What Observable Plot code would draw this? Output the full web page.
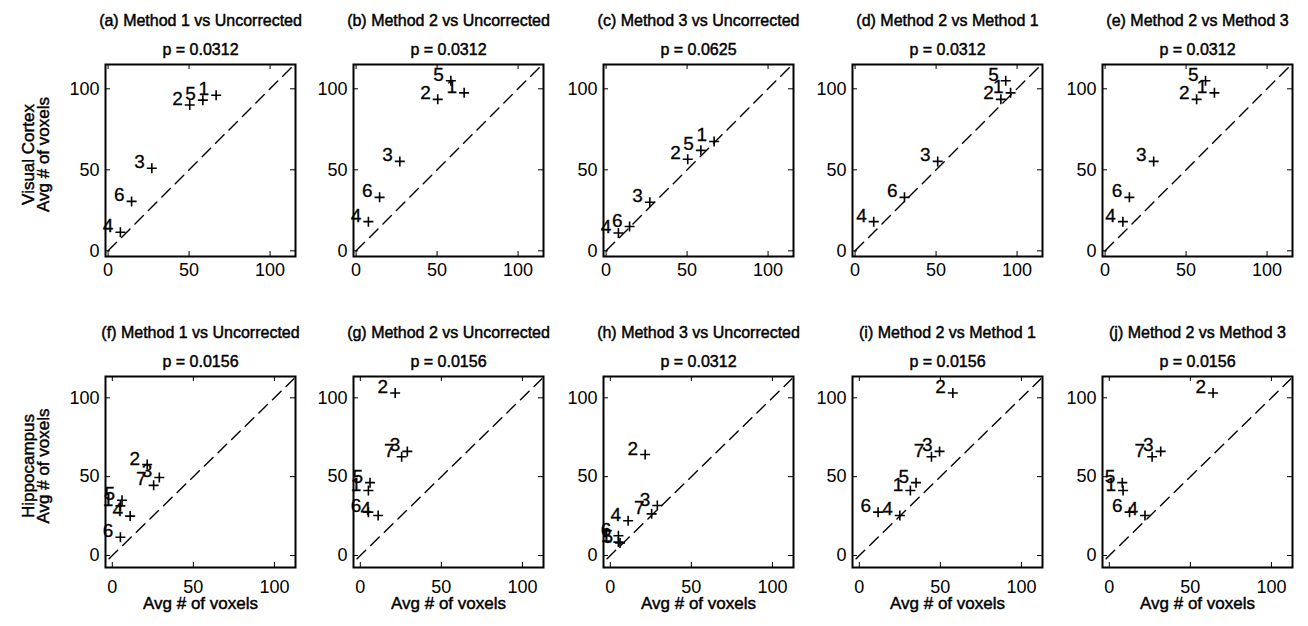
<!DOCTYPE html>
<html><head><meta charset="utf-8">
<script src="https://cdn.jsdelivr.net/npm/d3@7"></script>
<script src="https://cdn.jsdelivr.net/npm/@observablehq/plot@0.6"></script>
<style>
html,body{margin:0;padding:0;background:#fff;}
#chart{position:relative;width:1308px;height:626px;overflow:hidden;background:#fff;}
#chart svg{position:absolute;overflow:visible;}
</style></head><body><div id="chart"></div>
<script>
// ---- Data: Visual Cortex (subjects 1-6) ----
const vcSubjects = ["1", "2", "3", "4", "5", "6"];
const vcUncorrected = [66.7, 50.4, 27, 7.6, 58.5, 14.5];
const vcMethod1 = [96, 90, 51, 11.5, 93, 30.5];
const vcMethod2 = [97.5, 93.5, 55.2, 18, 105, 33];
const vcMethod3 = [67.5, 56.5, 30, 11, 62, 15];

// ---- Data: Hippocampus (subjects 1-7) ----
const hcSubjects = ["1", "2", "3", "4", "5", "6", "7"];
const hcUncorrected = [5, 21.5, 29, 11, 6, 5, 25.5];
const hcMethod1 = [31.5, 57.7, 49.5, 25, 35, 11.6, 44.5];
const hcMethod2 = [41.2, 103, 66, 25.4, 46.2, 27.5, 62.6];
const hcMethod3 = [8.5, 64, 31.7, 22, 8, 12.5, 26.4];

// ---- Text ----
const vcTitles = ["(a) Method 1 vs Uncorrected", "(b) Method 2 vs Uncorrected", "(c) Method 3 vs Uncorrected", "(d) Method 2 vs Method 1", "(e) Method 2 vs Method 3"];
const vcPValues = ["p = 0.0312", "p = 0.0312", "p = 0.0625", "p = 0.0312", "p = 0.0312"];
const hcTitles = ["(f) Method 1 vs Uncorrected", "(g) Method 2 vs Uncorrected", "(h) Method 3 vs Uncorrected", "(i) Method 2 vs Method 1", "(j) Method 2 vs Method 3"];
const hcPValues = ["p = 0.0156", "p = 0.0156", "p = 0.0312", "p = 0.0156", "p = 0.0156"];
const rowLabels = ["Visual Cortex", "Hippocampus"];
const axisLabel = "Avg # of voxels";
const tickValues = [0, 50, 100];

// identity reference line extents (y = x)
const vcDiagonal = [0, 114];
const hcDiagonal = [-2, 112];

// ---- Layout ----
const FONT = '"Liberation Sans", Arial, Helvetica, sans-serif';
const colLefts = [105, 353, 603, 852, 1102];
const rowsCfg = [
  {top: 64, h: 192, w: 190, xDomain: [-1.6, 115.7], yDomain: [-3.5, 115], tickPad: 7, mB: 40,
   subjects: vcSubjects, series: {U: vcUncorrected, M1: vcMethod1, M2: vcMethod2, M3: vcMethod3},
   titles: vcTitles, pvals: vcPValues, diag: vcDiagonal, label: rowLabels[0], xlabel: false},
  {top: 376, h: 191, w: 190, xDomain: [-4.2, 113], yDomain: [-7.6, 113.5], tickPad: 13, mB: 58,
   subjects: hcSubjects, series: {U: hcUncorrected, M1: hcMethod1, M2: hcMethod2, M3: hcMethod3},
   titles: hcTitles, pvals: hcPValues, diag: hcDiagonal, label: rowLabels[1], xlabel: true}
];
const pairs = [["U", "M1"], ["U", "M2"], ["U", "M3"], ["M1", "M2"], ["M3", "M2"]];

const plusSymbol = {
  draw(ctx, size) {
    const r = Math.sqrt(size / Math.PI);
    ctx.moveTo(-r, 0); ctx.lineTo(r, 0);
    ctx.moveTo(0, -r); ctx.lineTo(0, r);
  }
};

// slightly heavier text, like the reference's aliased rendering
const ink = {fill: "black", stroke: "black", strokeWidth: 0.45};

const root = document.getElementById("chart");

rowsCfg.forEach((row, ri) => {
  pairs.forEach(([xk, yk], ci) => {
    const xs = row.series[xk], ys = row.series[yk];
    const data = row.subjects.map((s, i) => ({s, x: xs[i], y: ys[i]}));
    const mL = ci === 0 ? 105 : 55, mT = 64, mR = 12, mB = row.mB;
    const marks = [
      Plot.tickX(tickValues, {x: d => d, insetTop: row.h - 5, stroke: "black"}),
      Plot.tickX(tickValues, {x: d => d, insetBottom: row.h - 5, stroke: "black"}),
      Plot.tickY(tickValues, {y: d => d, insetRight: row.w - 5, stroke: "black"}),
      Plot.tickY(tickValues, {y: d => d, insetLeft: row.w - 5, stroke: "black"}),
      Plot.line(row.diag, {x: d => d, y: d => d, stroke: "black", strokeWidth: 1.4, strokeDasharray: "12,7"}),
      Plot.dot(data, {x: "x", y: "y", symbol: plusSymbol, r: 5, stroke: "black", strokeWidth: 1.6, fill: "none"}),
      Plot.text(data, {x: "x", y: "y", text: "s", textAnchor: "end", lineAnchor: "bottom", dx: -7, fontSize: 19, fill: "black", stroke: "black", strokeWidth: 0.3}),
      Plot.frame({stroke: "black", strokeWidth: 2}),
      Plot.axisX(tickValues, {tickSize: 0, tickPadding: row.tickPad, fontSize: 18, ...ink}),
      Plot.axisY(tickValues, {tickSize: 0, tickPadding: 6, fontSize: 18, ...ink}),
      Plot.text([row.titles[ci]], {frameAnchor: "top", dy: -39, lineAnchor: "bottom", fontSize: 16, ...ink}),
      Plot.text([row.pvals[ci]], {frameAnchor: "top", dy: -10, lineAnchor: "bottom", fontSize: 16, ...ink})
    ];
    if (row.xlabel) {
      marks.push(Plot.text([axisLabel], {frameAnchor: "bottom", dy: 41, lineAnchor: "bottom", fontSize: 17, ...ink}));
    }
    if (ci === 0) {
      marks.push(Plot.text([row.label], {frameAnchor: "left", rotate: -90, dx: -72, dy: -6, textAnchor: "middle", lineAnchor: "bottom", fontSize: 17, ...ink}));
      marks.push(Plot.text([axisLabel], {frameAnchor: "left", rotate: -90, dx: -57, dy: -6, textAnchor: "middle", lineAnchor: "bottom", fontSize: 17, ...ink}));
    }
    const svg = Plot.plot({
      width: mL + row.w + mR,
      height: mT + row.h + mB,
      marginLeft: mL, marginTop: mT, marginRight: mR, marginBottom: mB,
      x: {domain: row.xDomain, label: null},
      y: {domain: row.yDomain, label: null},
      style: {fontFamily: FONT, color: "black", background: "transparent", overflow: "visible"},
      marks
    });
    svg.style.left = (colLefts[ci] - mL) + "px";
    svg.style.top = (row.top - mT) + "px";
    root.appendChild(svg);
  });
});
</script>
</body></html>
